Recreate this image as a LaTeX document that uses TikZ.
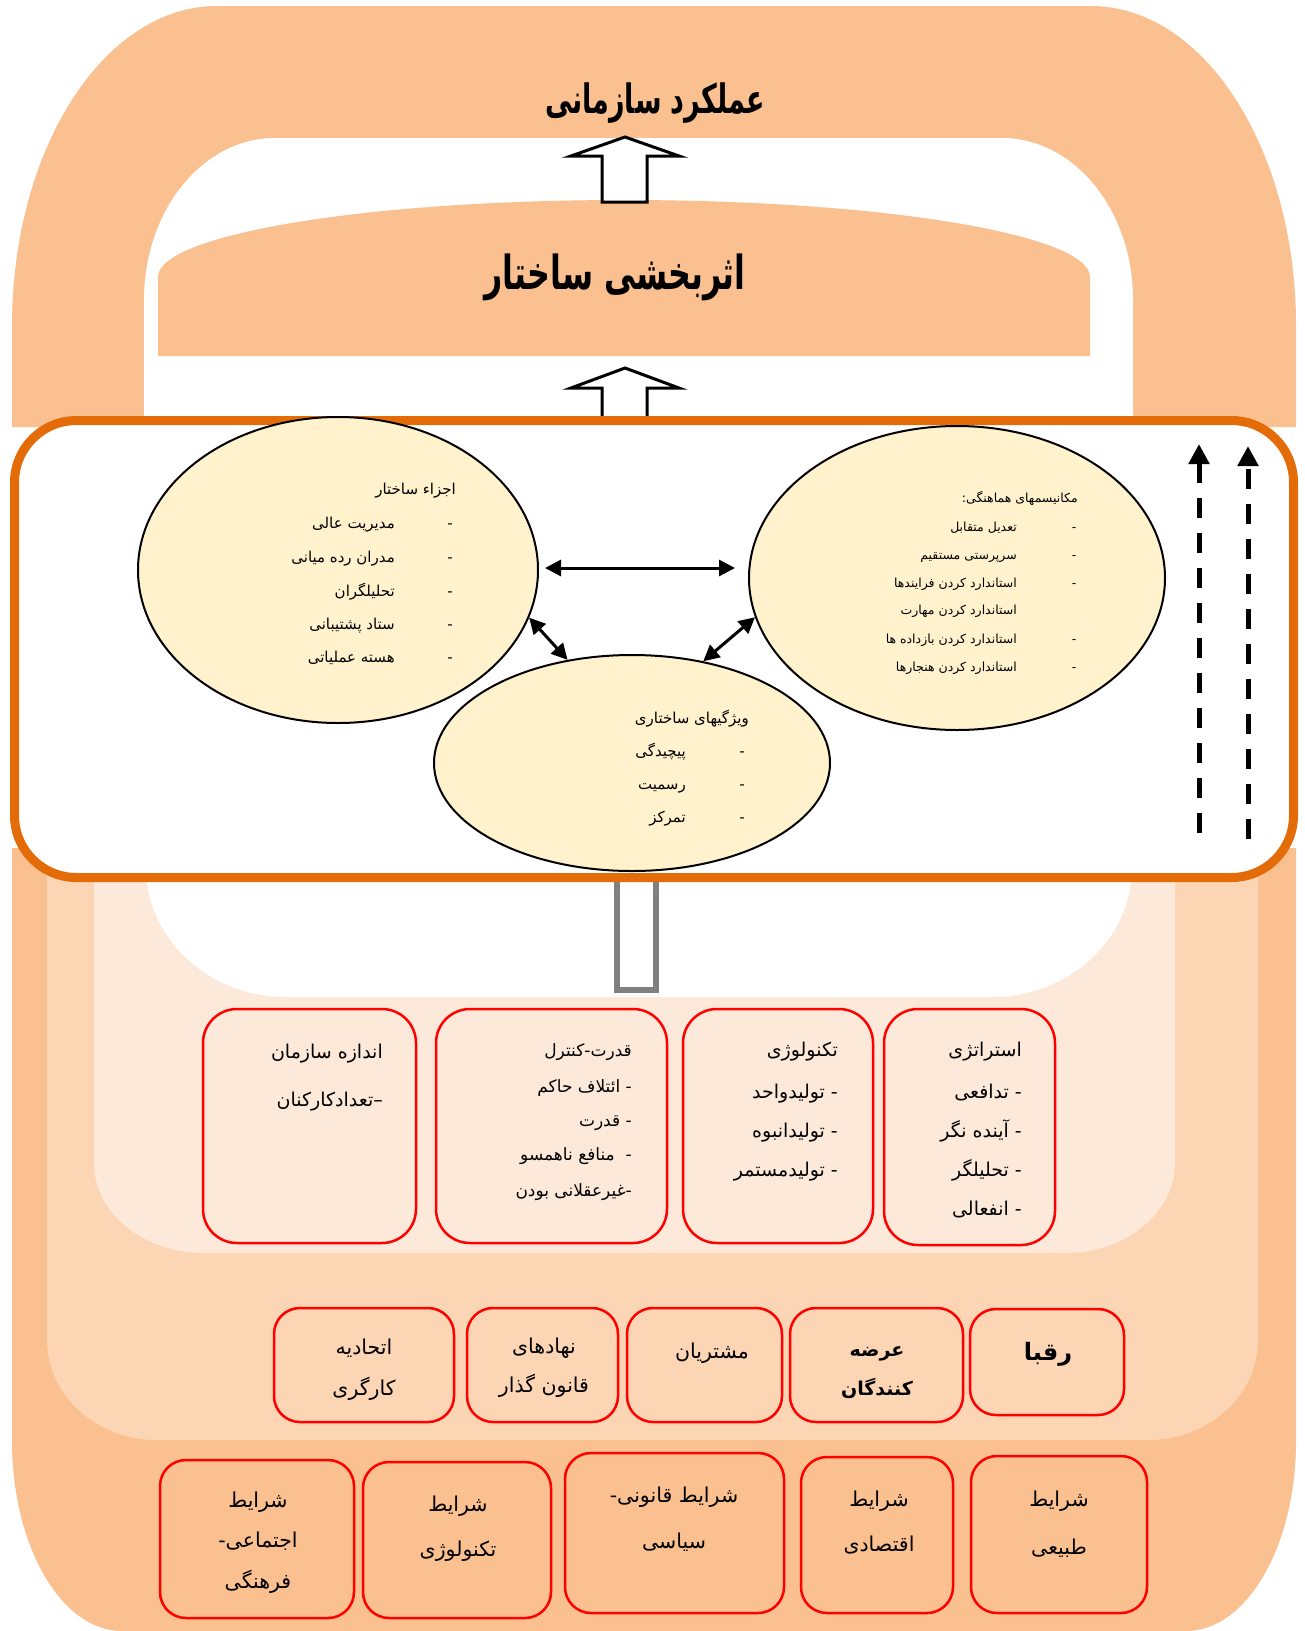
\documentclass[tikz,border=0pt]{standalone}
\usepackage{fontspec}
\usepackage{graphicx}
\TeXXeTstate=1
\newfontfamily\ar[Script=Arabic]{DejaVu Sans}
\newfontfamily\arb[Script=Arabic]{DejaVu Sans Bold}
\usetikzlibrary{shapes.geometric,arrows.meta,calc}
\definecolor{orA}{RGB}{250,192,144}
\definecolor{orB}{RGB}{252,213,180}
\definecolor{orC}{RGB}{253,233,217}
\definecolor{frameor}{RGB}{227,108,9}
\definecolor{ellfill}{RGB}{255,242,204}
\definecolor{redb}{RGB}{255,0,0}
\definecolor{grayb}{RGB}{128,128,128}
\newcommand\putR[5]{\node[#1] (#2) at (#3,#4) {#5};}
\begin{document}
\begin{tikzpicture}[x=1pt,y=-1pt,
  ellnode/.style={ellipse, draw=black, line width=2pt, fill=ellfill, inner sep=0pt},
  redbox/.style={draw=redb, line width=2.5pt, rounded corners=34pt, inner sep=0pt},
  redboxs/.style={draw=redb, line width=2.5pt, rounded corners=26pt, inner sep=0pt},
  rl/.style={anchor=east, inner sep=0pt, text height=0.7em, text depth=0.25em, yshift=-4pt},
  cl/.style={anchor=center, inner sep=0pt, text height=0.7em, text depth=0.25em, yshift=-4pt},
  elltxt/.style={rl, font=\ar\fontsize{15}{17}\selectfont, yshift=1pt},
  ellc/.style={elltxt, anchor=center},
  elltxtr/.style={rl, font=\ar\fontsize{12.5}{15}\selectfont, yshift=1pt},
  ellcr/.style={elltxtr, anchor=center},
  boxtxt/.style={rl, font=\ar\fontsize{19}{22}\selectfont},
  boxtxtb/.style={rl, font=\ar\fontsize{17}{20}\selectfont},
  envtxt/.style={cl, font=\ar\fontsize{20.5}{24}\selectfont},
  envtxtb/.style={cl, font=\arb\fontsize{19}{22}\selectfont},
  dbl/.style={{Triangle[length=16pt,width=16pt]}-{Triangle[length=16pt,width=16pt]}, line width=3pt},
  dsh/.style={-{Triangle[length=20pt,width=20pt]}, line width=5pt, dash pattern=on 20pt off 15pt},
  blockarrow/.style={draw=black, line width=3pt, fill=white, line join=miter}
]
\useasboundingbox (0,0) rectangle (1305,1631);
\fill[white] (0,0) rectangle (1305,1631);
% top arch
\fill[orA] (12,427) -- (12,326) arc[start angle=180,end angle=270,x radius=205,y radius=320] -- (1091,6) arc[start angle=270,end angle=360,x radius=205,y radius=320] -- (1296,427) -- cycle;
\fill[white] (144,427) -- (144,300) arc[start angle=180,end angle=270,x radius=131,y radius=162] -- (1002,138) arc[start angle=270,end angle=360,x radius=131,y radius=162] -- (1133,427) -- cycle;
% dome
\fill[orA] (158,356) -- (158,277) arc[start angle=180,end angle=360,x radius=466,y radius=77] -- (1090,356) -- cycle;
\node[font=\arb\fontsize{30}{34}\selectfont, inner sep=0pt] (t1) at (655,103) {\scalebox{0.9}[1.35]{\beginR عملکرد سازمانی\endR}};
\node[font=\arb\fontsize{34}{38}\selectfont, inner sep=0pt] (t2) at (615,277) {\scalebox{0.93}[1.38]{\beginR اثربخشی ساختار\endR}};
% block arrows
\draw[blockarrow] (602,202) -- (602,156) -- (571,156) -- (625,137) -- (679,156) -- (647,156) -- (647,202) -- cycle;
\draw[blockarrow] (602,440) -- (602,388) -- (571,388) -- (625,368) -- (679,388) -- (647,388) -- (647,440) -- cycle;
% bottom layers
\fill[orA] (12,848) -- (12,1441) arc[start angle=180,end angle=90,x radius=110,y radius=190] -- (1186,1631) arc[start angle=90,end angle=0,x radius=110,y radius=190] -- (1296,848) -- cycle;
\fill[orB] (47,848) -- (47,1340) arc[start angle=180,end angle=90,x radius=110,y radius=100] -- (1148,1440) arc[start angle=90,end angle=0,x radius=110,y radius=100] -- (1258,848) -- cycle;
\fill[orC] (94,848) -- (94,1163) arc[start angle=180,end angle=90,x radius=110,y radius=90] -- (1065,1253) arc[start angle=90,end angle=0,x radius=110,y radius=90] -- (1175,848) -- cycle;
\fill[white] (146,848) -- (146,867) arc[start angle=180,end angle=90,x radius=140,y radius=130] -- (992,997) arc[start angle=90,end angle=0,x radius=140,y radius=130] -- (1132,848) -- cycle;
% gray shaft
\draw[grayb, line width=6pt, fill=white] (617,860) rectangle (656,990);
% frame
\draw[frameor, line width=9pt, fill=white, rounded corners=62pt] (14.5,420.5) rectangle (1293.5,877.5);
% ellipses
\node[ellnode, minimum width=400pt, minimum height=306pt] (L) at (338,570) {};
\node[ellnode, minimum width=416pt, minimum height=304pt] (R) at (957,578) {};
\node[ellnode, minimum width=396pt, minimum height=216pt] (B) at (632,763) {};
\draw[dbl] ([xshift=6pt,yshift=2pt]L.east) -- ([xshift=-13pt,yshift=10pt]R.west);
\draw[dbl] (L.-14) -- (B.122);
\draw[dbl] (R.191) -- (B.55);
% left ellipse text
\putR{elltxt}{la}{456}{489}{\beginR اجزاء ساختار\endR}
\putR{elltxt}{l1}{395}{523}{\beginR مدیریت عالی\endR}
\putR{elltxt}{l2}{395}{557}{\beginR مدران رده میانی\endR}
\putR{elltxt}{l3}{395}{591}{\beginR تحلیلگران\endR}
\putR{elltxt}{l4}{395}{624}{\beginR ستاد پشتیبانی\endR}
\putR{elltxt}{l5}{395}{657}{\beginR هسته عملیاتی\endR}
\putR{ellc}{ld1}{450}{523}{-}
\putR{ellc}{ld2}{450}{557}{-}
\putR{ellc}{ld3}{450}{591}{-}
\putR{ellc}{ld4}{450}{624}{-}
\putR{ellc}{ld5}{450}{657}{-}
% right ellipse text
\putR{elltxtr}{ra}{1078}{497}{\beginR مکانیسمهای هماهنگی:\endR}
\putR{elltxtr}{r1}{1017}{526}{\beginR تعدیل متقابل\endR}
\putR{elltxtr}{r2}{1017}{554}{\beginR سرپرستی مستقیم\endR}
\putR{elltxtr}{r3}{1017}{582}{\beginR استاندارد کردن فرایندها\endR}
\putR{elltxtr}{r4}{1017}{609}{\beginR استاندارد کردن مهارت\endR}
\putR{elltxtr}{r5}{1017}{638}{\beginR استاندارد کردن بازداده ها\endR}
\putR{elltxtr}{r6}{1017}{666}{\beginR استاندارد کردن هنجارها\endR}
\putR{ellcr}{rd1}{1074}{526}{-}
\putR{ellcr}{rd2}{1074}{554}{-}
\putR{ellcr}{rd3}{1074}{582}{-}
\putR{ellcr}{rd5}{1074}{638}{-}
\putR{ellcr}{rd6}{1074}{666}{-}
% bottom ellipse text
\putR{elltxt}{ba}{749}{718}{\beginR ویژگیهای ساختاری\endR}
\putR{elltxt}{b1}{686}{751}{\beginR پیچیدگی\endR}
\putR{elltxt}{b2}{686}{784}{\beginR رسمیت\endR}
\putR{elltxt}{b3}{686}{817}{\beginR تمرکز\endR}
\putR{ellc}{bd1}{742}{751}{-}
\putR{ellc}{bd2}{742}{784}{-}
\putR{ellc}{bd3}{742}{817}{-}
% dashed arrows
\coordinate (d1s) at (1199,833);
\coordinate (d1e) at (1199,444);
\coordinate (d2s) at (1248,839);
\coordinate (d2e) at (1248,446);
\draw[dsh] (d1s) -- (d1e);
\draw[dsh] (d2s) -- (d2e);
% row 1 boxes
\node[redbox, minimum width=213pt, minimum height=234pt] (A) at (309.5,1126) {};
\node[redbox, minimum width=231pt, minimum height=234pt] (Bx) at (551.5,1126) {};
\node[redbox, minimum width=190pt, minimum height=234pt] (C) at (778,1126) {};
\node[redbox, minimum width=171pt, minimum height=236pt] (D) at (969.5,1127) {};
\putR{boxtxt}{d0}{1022}{1050}{\beginR استراتژی\endR}
\putR{boxtxt}{d1}{1022}{1092}{\beginR - تدافعی\endR}
\putR{boxtxt}{d2}{1022}{1131}{\beginR - آینده نگر\endR}
\putR{boxtxt}{d3}{1022}{1170}{\beginR - تحلیلگر\endR}
\putR{boxtxt}{d4}{1022}{1209}{\beginR - انفعالی\endR}
\putR{boxtxt}{c0}{838}{1050}{\beginR تکنولوژی\endR}
\putR{boxtxt}{c1}{838}{1092}{\beginR - تولیدواحد\endR}
\putR{boxtxt}{c2}{838}{1131}{\beginR - تولیدانبوه\endR}
\putR{boxtxt}{c3}{838}{1170}{\beginR - تولیدمستمر\endR}
\putR{boxtxtb}{q0}{632}{1050}{\beginR قدرت-کنترل\endR}
\putR{boxtxtb}{q1}{632}{1086}{\beginR - ائتلاف حاکم\endR}
\putR{boxtxtb}{q2}{632}{1120}{\beginR - قدرت\endR}
\putR{boxtxtb}{q3}{632}{1154}{\beginR -~ منافع ناهمسو\endR}
\putR{boxtxtb}{q4}{632}{1190}{\beginR -غیرعقلانی بودن\endR}
\putR{boxtxt}{a0}{383}{1052}{\beginR اندازه سازمان\endR}
\putR{boxtxt}{a1}{383}{1100}{\beginR –تعدادکارکنان\endR}
% row 2 boxes
\node[redboxs, minimum width=180pt, minimum height=114pt] (E) at (364,1365) {};
\node[redboxs, minimum width=151pt, minimum height=114pt] (F) at (542.5,1365) {};
\node[redboxs, minimum width=155pt, minimum height=114pt] (G) at (704.5,1365) {};
\node[redboxs, minimum width=173pt, minimum height=114pt] (H) at (876.5,1365) {};
\node[redboxs, minimum width=154pt, minimum height=106pt] (I) at (1047,1362) {};
\putR{envtxt}{e1}{364}{1348}{\beginR اتحادیه\endR}
\putR{envtxt}{e2}{364}{1389}{\beginR کارگری\endR}
\putR{envtxt}{f1}{544}{1347}{\beginR نهادهای\endR}
\putR{envtxt}{f2}{544}{1386}{\beginR قانون گذار\endR}
\putR{envtxt}{g1}{712}{1352}{\beginR مشتریان\endR}
\putR{envtxtb}{h1}{877}{1350}{\beginR عرضه\endR}
\putR{envtxtb}{h2}{877}{1389}{\beginR کنندگان\endR}
\node[cl, font=\arb\fontsize{24}{28}\selectfont] (i1) at (1048,1354) {\beginR رقبا\endR};
% row 3 boxes
\node[redboxs, minimum width=194pt, minimum height=158pt] (J) at (257,1539) {};
\node[redboxs, minimum width=188pt, minimum height=156pt] (K) at (457,1540) {};
\node[redboxs, minimum width=219pt, minimum height=160pt] (Lq) at (674.5,1533) {};
\node[redboxs, minimum width=152pt, minimum height=156pt] (M) at (877,1535) {};
\node[redboxs, minimum width=176pt, minimum height=157pt] (N) at (1059,1534.5) {};
\putR{envtxt}{j1}{258}{1501}{\beginR شرایط\endR}
\putR{envtxt}{j2}{258}{1541}{\beginR اجتماعی-\endR}
\putR{envtxt}{j3}{258}{1582}{\beginR فرهنگی\endR}
\putR{envtxt}{k1}{458}{1505}{\beginR شرایط\endR}
\putR{envtxt}{k2}{458}{1550}{\beginR تکنولوژی\endR}
\putR{envtxt}{m1}{674}{1496}{\beginR شرایط قانونی-\endR}
\putR{envtxt}{m2}{674}{1542}{\beginR سیاسی\endR}
\putR{envtxt}{n1}{879}{1500}{\beginR شرایط\endR}
\putR{envtxt}{n2}{879}{1545}{\beginR اقتصادی\endR}
\putR{envtxt}{p1}{1059}{1500}{\beginR شرایط\endR}
\putR{envtxt}{p2}{1059}{1548}{\beginR طبیعی\endR}
\end{tikzpicture}
\end{document}
